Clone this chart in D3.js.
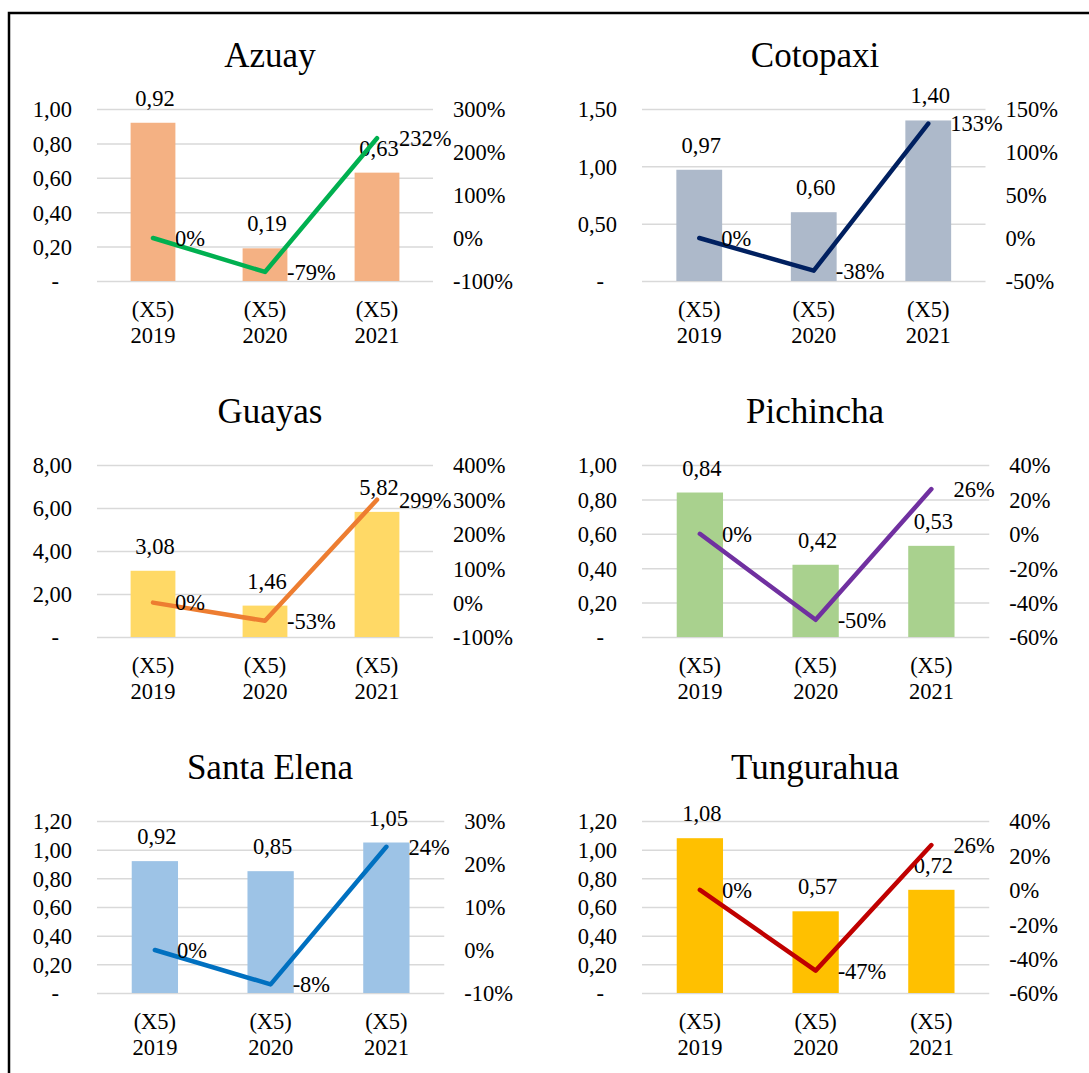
<!DOCTYPE html>
<html><head><meta charset="utf-8">
<script src="https://cdn.jsdelivr.net/npm/d3@7"></script>
<style>body{margin:0;background:#fff;} svg{display:block;} svg text{font-family:"Liberation Serif","Times New Roman","DejaVu Serif",serif;}</style>
</head><body>
<script>
// ---------- data ----------
const categories = ["2019", "2020", "2021"];
const categoryPrefix = "(X5)";
const provinces = ["Azuay", "Cotopaxi", "Guayas", "Pichincha", "Santa Elena", "Tungurahua"];

const azuayValues = [0.92, 0.19, 0.63];
const azuayChange = [0, -79, 232];
const azuayLeftTicks = [0, 0.2, 0.4, 0.6, 0.8, 1.0];
const azuayRightTicks = [-100, 0, 100, 200, 300];

const cotopaxiValues = [0.97, 0.60, 1.40];
const cotopaxiChange = [0, -38, 133];
const cotopaxiLeftTicks = [0, 0.5, 1.0, 1.5];
const cotopaxiRightTicks = [-50, 0, 50, 100, 150];

const guayasValues = [3.08, 1.46, 5.82];
const guayasChange = [0, -53, 299];
const guayasLeftTicks = [0, 2, 4, 6, 8];
const guayasRightTicks = [-100, 0, 100, 200, 300, 400];

const pichinchaValues = [0.84, 0.42, 0.53];
const pichinchaChange = [0, -50, 26];
const pichinchaLeftTicks = [0, 0.2, 0.4, 0.6, 0.8, 1.0];
const pichinchaRightTicks = [-60, -40, -20, 0, 20, 40];

const santaElenaValues = [0.92, 0.85, 1.05];
const santaElenaChange = [0, -8, 24];
const santaElenaLeftTicks = [0, 0.2, 0.4, 0.6, 0.8, 1.0, 1.2];
const santaElenaRightTicks = [-10, 0, 10, 20, 30];

const tungurahuaValues = [1.08, 0.57, 0.72];
const tungurahuaChange = [0, -47, 26];
const tungurahuaLeftTicks = [0, 0.2, 0.4, 0.6, 0.8, 1.0, 1.2];
const tungurahuaRightTicks = [-60, -40, -20, 0, 20, 40];

const barColors = ["#F4B183", "#ADB9CA", "#FFD966", "#A9D18E", "#9DC3E6", "#FFC000"];
const lineColors = ["#00B050", "#002060", "#ED7D31", "#7030A0", "#0070C0", "#C00000"];

const panels = [
  {values: azuayValues, change: azuayChange, lt: azuayLeftTicks, rt: azuayRightTicks},
  {values: cotopaxiValues, change: cotopaxiChange, lt: cotopaxiLeftTicks, rt: cotopaxiRightTicks},
  {values: guayasValues, change: guayasChange, lt: guayasLeftTicks, rt: guayasRightTicks},
  {values: pichinchaValues, change: pichinchaChange, lt: pichinchaLeftTicks, rt: pichinchaRightTicks},
  {values: santaElenaValues, change: santaElenaChange, lt: santaElenaLeftTicks, rt: santaElenaRightTicks},
  {values: tungurahuaValues, change: tungurahuaChange, lt: tungurahuaLeftTicks, rt: tungurahuaRightTicks}
].map((p, i) => Object.assign(p, {name: provinces[i], bar: barColors[i], line: lineColors[i]}));

// ---------- layout ----------
const W = 1089, H = 1073;
const FS = 22.5, TITLE_FS = 35;
const panelX = [0, 545], panelW = 540;
const firstTop = 109, rowStep = 356, plotH = 172;

const svg = d3.select("body").append("svg").attr("width", W).attr("height", H);

svg.append("rect").attr("x", 9).attr("y", 13).attr("width", 2000).attr("height", 2000)
  .attr("fill", "none").attr("stroke", "#000").attr("stroke-width", 2.5);

const fmtNum = d => d === 0 ? "-" : d3.format(".2f")(d).replace(".", ",");
const fmtPct = d => d + "%";

function measure(texts) {
  const t = svg.append("text").style("font-size", FS + "px");
  let m = 0;
  texts.forEach(s => { t.text(s); m = Math.max(m, t.node().getComputedTextLength()); });
  t.remove();
  return m;
}

panels.forEach((p, i) => {
  const col = i % 2, row = Math.floor(i / 2);
  const px = panelX[col];
  const top = firstTop + row * rowStep, bottom = top + plotH;
  const left = px + 97;
  const rw = measure(p.rt.map(fmtPct));
  const right = px + panelW - 27 - rw - 20;

  const g = svg.append("g");

  g.append("text").attr("x", px + panelW / 2).attr("y", top - 42)
    .attr("text-anchor", "middle").style("font-size", TITLE_FS + "px").text(p.name);

  const x = d3.scaleBand().domain(categories).range([left, right]).paddingInner(0.6).paddingOuter(0.3);
  const y = d3.scaleLinear().domain([p.lt[0], p.lt[p.lt.length - 1]]).range([bottom, top]);
  const y2 = d3.scaleLinear().domain([p.rt[0], p.rt[p.rt.length - 1]]).range([bottom, top]);

  // left axis + gridlines
  const ax = g.append("g").attr("transform", `translate(${left},0)`)
    .call(d3.axisLeft(y).tickValues(p.lt).tickSizeInner(-(right - left)).tickSizeOuter(0)
      .tickPadding(25).tickFormat(fmtNum));
  ax.attr("font-family", null).attr("font-size", null);
  ax.select(".domain").remove();
  ax.selectAll("line").attr("stroke", "#D9D9D9").attr("stroke-width", 1.5);
  ax.selectAll("text").style("font-size", FS + "px")
    .attr("fill", "#000").attr("dy", "0.35em")
    .attr("x", d => d === 0 ? -38 : -25);

  // right axis
  const ax2 = g.append("g").attr("transform", `translate(${right},0)`)
    .call(d3.axisRight(y2).tickValues(p.rt).tickSize(0).tickPadding(20).tickFormat(fmtPct));
  ax2.attr("font-family", null).attr("font-size", null);
  ax2.select(".domain").remove();
  ax2.selectAll("text").style("font-size", FS + "px")
    .attr("fill", "#000").attr("dy", "0.35em");

  // category labels
  const cl = g.append("g").selectAll("text").data(categories).join("text")
    .attr("text-anchor", "middle").style("font-size", FS + "px");
  cl.append("tspan").attr("x", c => x(c) + x.bandwidth() / 2).attr("y", bottom + 36).text(categoryPrefix);
  cl.append("tspan").attr("x", c => x(c) + x.bandwidth() / 2).attr("y", bottom + 62).text(c => c);

  // bars
  g.append("g").selectAll("rect").data(categories).join("rect")
    .attr("x", c => x(c)).attr("width", x.bandwidth())
    .attr("y", (c, k) => y(p.values[k])).attr("height", (c, k) => bottom - y(p.values[k]))
    .attr("fill", p.bar);

  // bar labels (drawn beneath the line, as in the reference)
  g.append("g").selectAll("text").data(categories).join("text")
    .attr("x", c => x(c) + x.bandwidth() / 2 + 2).attr("y", (c, k) => y(p.values[k]) - 17)
    .attr("text-anchor", "middle").style("font-size", FS + "px")
    .text((c, k) => fmtNum(p.values[k]));

  // line
  const line = d3.line().x(c => x(c) + x.bandwidth() / 2).y((c, k) => y2(p.change[k]));
  g.append("path").datum(categories).attr("d", line).attr("fill", "none")
    .attr("stroke", p.line).attr("stroke-width", 4.5)
    .attr("stroke-linecap", "round").attr("stroke-linejoin", "round");

  // line labels
  g.append("g").selectAll("text").data(categories).join("text")
    .attr("x", c => x(c) + x.bandwidth() / 2 + 22).attr("y", (c, k) => y2(p.change[k]))
    .attr("dy", "0.35em").style("font-size", FS + "px")
    .text((c, k) => fmtPct(p.change[k]));
});
</script>
</body></html>
